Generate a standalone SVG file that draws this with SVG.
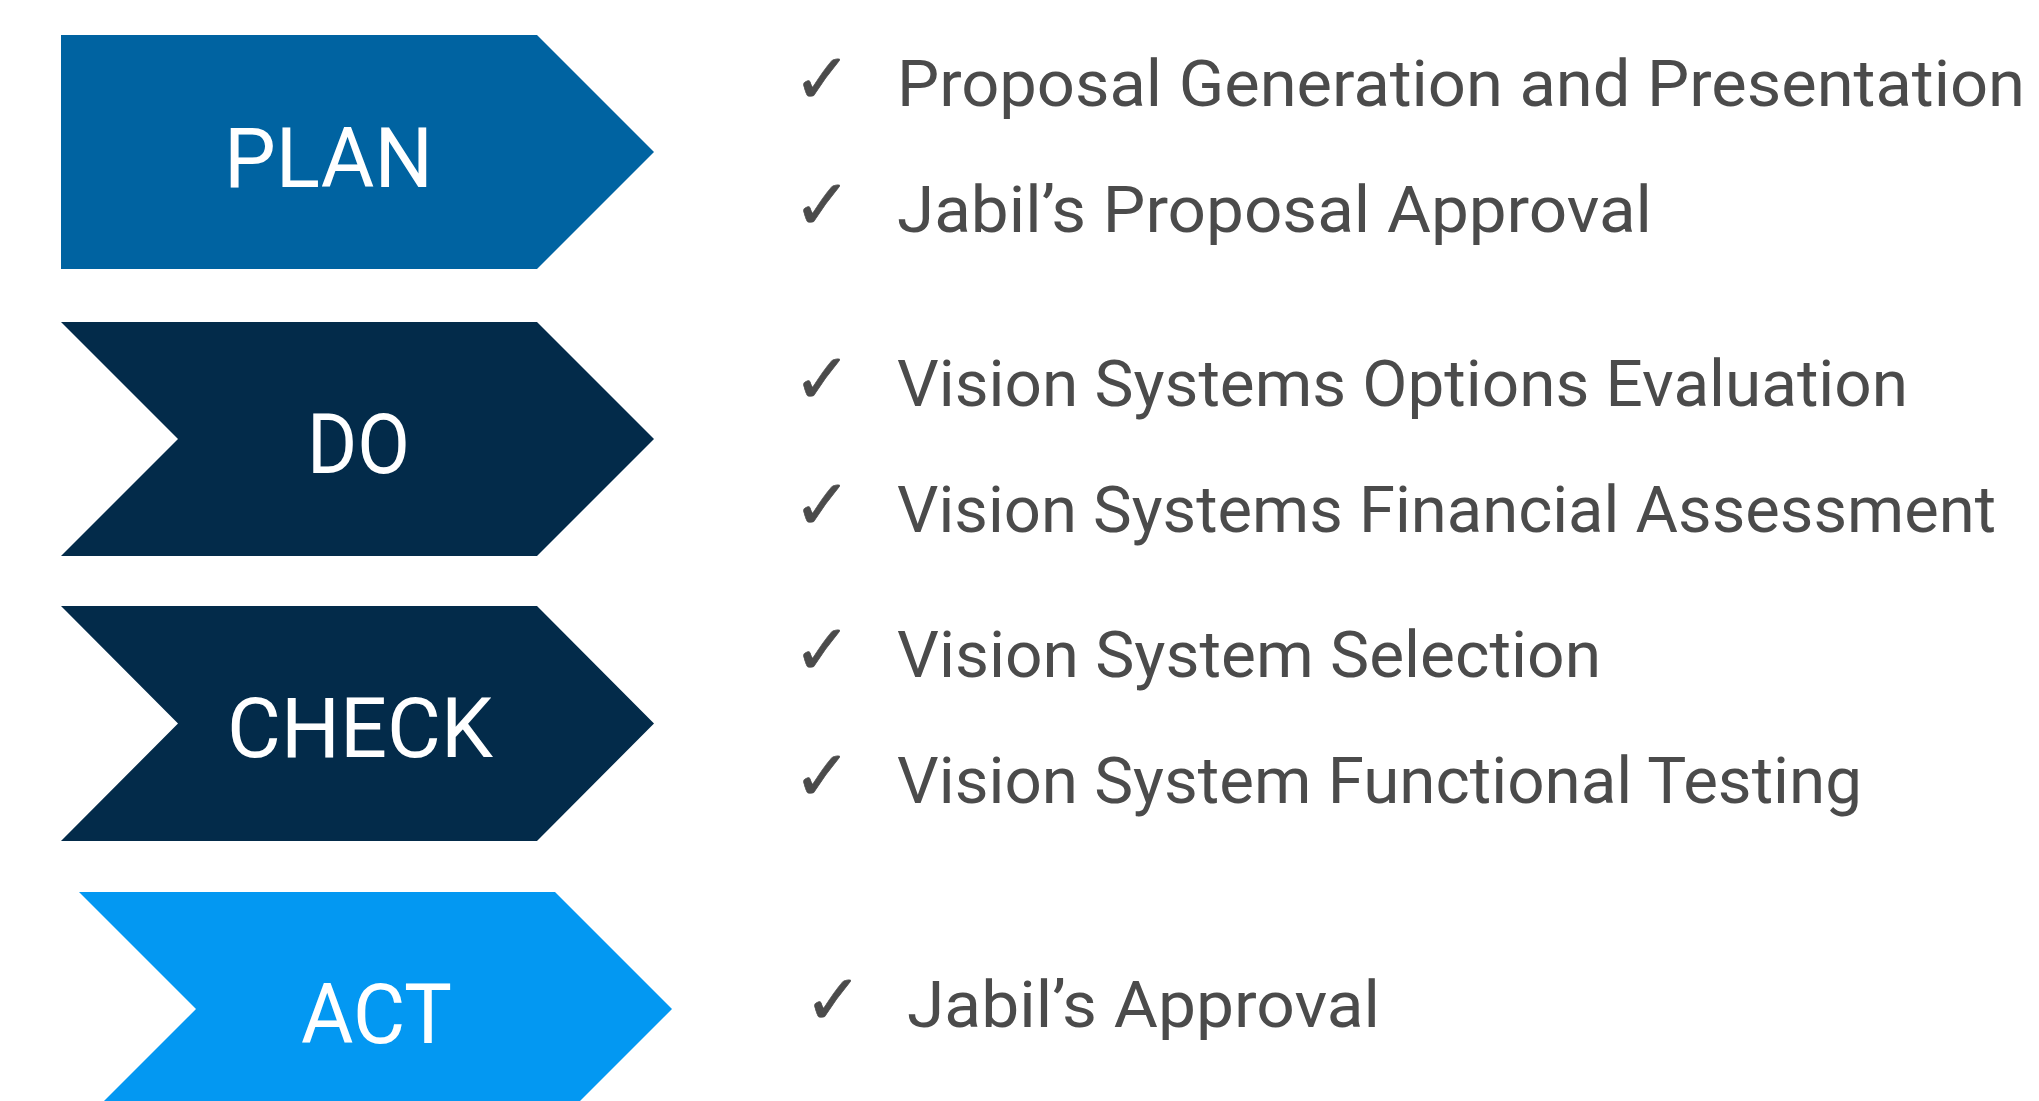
<svg xmlns="http://www.w3.org/2000/svg" width="2039" height="1101" viewBox="0 0 2039 1101">
<style>
.lbl{font-family:Roboto,"Liberation Sans",sans-serif;font-size:83px;fill:#ffffff}
.item{font-family:Roboto,"Liberation Sans",sans-serif;font-size:64px;fill:#4b4b4b}
.chk{font-family:"DejaVu Sans",sans-serif;font-size:70px;fill:#4b4b4b;stroke:#4b4b4b;stroke-width:0.6px}
</style>
<rect x="0" y="0" width="2039" height="1101" fill="#ffffff"/>
<g id="plan">
<polygon points="61,35 537,35 654,152 537,269 61,269" fill="#0063a1"/>
<text class="lbl" x="224" y="187" textLength="209" lengthAdjust="spacingAndGlyphs">PLAN</text>
</g>
<g id="do">
<polygon points="61,322 537,322 654,439 537,556 61,556 178,439" fill="#032b4a"/>
<text class="lbl" x="307" y="473" textLength="103" lengthAdjust="spacingAndGlyphs">DO</text>
</g>
<g id="check">
<polygon points="61,606 537,606 654,723.5 537,841 61,841 178,723.5" fill="#032b4a"/>
<text class="lbl" x="227" y="757" textLength="266" lengthAdjust="spacingAndGlyphs">CHECK</text>
</g>
<g id="act">
<polygon points="79,892 555,892 672,1009 555,1126 79,1126 196,1009" fill="#0398f2"/>
<text class="lbl" x="301" y="1043" textLength="151" lengthAdjust="spacingAndGlyphs">ACT</text>
</g>
<g id="items">
<text class="chk" x="793" y="103">✓</text>
<text class="item" x="897" y="106" textLength="1128" lengthAdjust="spacingAndGlyphs">Proposal Generation and Presentation</text>
<text class="chk" x="793" y="229">✓</text>
<text class="item" x="897" y="232" textLength="755" lengthAdjust="spacingAndGlyphs">Jabil’s Proposal Approval</text>
<text class="chk" x="793" y="403">✓</text>
<text class="item" x="897" y="406" textLength="1011" lengthAdjust="spacingAndGlyphs">Vision Systems Options Evaluation</text>
<text class="chk" x="793" y="529">✓</text>
<text class="item" x="897" y="532" textLength="1099" lengthAdjust="spacingAndGlyphs">Vision Systems Financial Assessment</text>
<text class="chk" x="793" y="674">✓</text>
<text class="item" x="897" y="677" textLength="704" lengthAdjust="spacingAndGlyphs">Vision System Selection</text>
<text class="chk" x="793" y="800">✓</text>
<text class="item" x="897" y="803" textLength="965" lengthAdjust="spacingAndGlyphs">Vision System Functional Testing</text>
<text class="chk" x="804" y="1024">✓</text>
<text class="item" x="907" y="1027" textLength="473" lengthAdjust="spacingAndGlyphs">Jabil’s Approval</text>
</g>
<g id="connectors"></g>
</svg>
